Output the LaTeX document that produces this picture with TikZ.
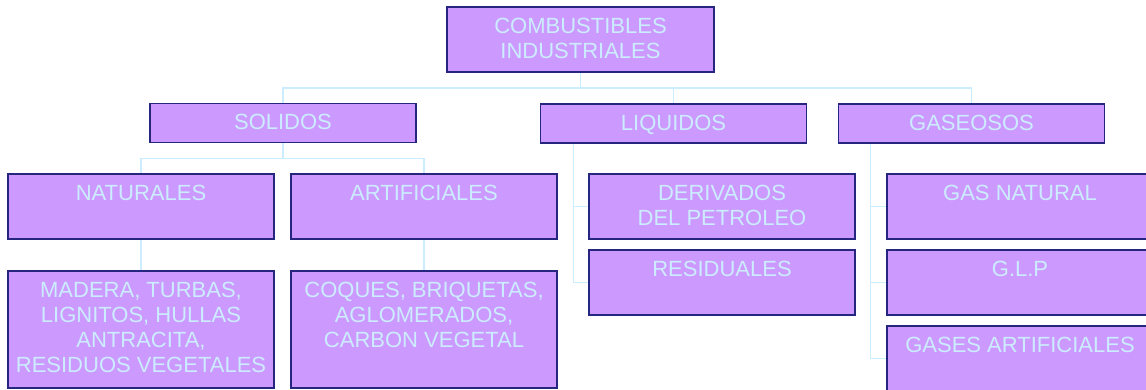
\documentclass[tikz,border=0pt]{standalone}
\usepackage{fontspec}
\setmainfont{Liberation Sans}
\usetikzlibrary{backgrounds}
\definecolor{boxfill}{HTML}{CC99FF}
\definecolor{boxline}{HTML}{262680}
\definecolor{txtcol}{HTML}{CCECFF}
\definecolor{conncol}{HTML}{CCECFF}
\newcommand\boxtxt[3]{\parbox[c][#2pt][t]{#1pt}{\centering\vspace*{11pt}#3\par}}
\tikzset{
  box/.style={draw=boxline, fill=boxfill, line width=1.5pt, inner sep=0pt, outer sep=0pt,
    anchor=north west, text=txtcol, font=\fontsize{22pt}{25pt}\selectfont},
  conn/.style={draw=conncol, line width=1.5pt}
}
\begin{document}
\begin{tikzpicture}[x=1pt,y=-1pt]
\useasboundingbox (0,0) rectangle (1146,389);
% boxes
\node[box] (top) at (447,7) {\boxtxt{267}{65}{COMBUSTIBLES\\INDUSTRIALES}};
\node[box] (sol) at (150,103.5) {\boxtxt{266}{39}{SOLIDOS}};
\node[box] (liq) at (540.5,104) {\boxtxt{266}{39}{LIQUIDOS}};
\node[box] (gas) at (838.5,104) {\boxtxt{266}{39}{GASEOSOS}};
\node[box] (nat) at (8,174) {\boxtxt{266}{65}{NATURALES}};
\node[box] (art) at (291,174) {\boxtxt{266}{65}{ARTIFICIALES}};
\node[box] (der) at (589,174) {\boxtxt{266}{65}{DERIVADOS\\DEL PETROLEO}};
\node[box] (res) at (589,250) {\boxtxt{266}{65}{RESIDUALES}};
\node[box] (gnat) at (887,174) {\boxtxt{266}{65}{GAS NATURAL}};
\node[box] (glp) at (887,250) {\boxtxt{266}{65}{G.L.P}};
\node[box] (gart) at (887,326) {\boxtxt{266}{65}{GASES ARTIFICIALES}};
\node[box] (mad) at (8,271) {\boxtxt{266}{117}{MADERA, TURBAS,\\LIGNITOS, HULLAS\\ANTRACITA,\\RESIDUOS VEGETALES}};
\node[box] (coq) at (291,271) {\boxtxt{266}{117}{COQUES, BRIQUETAS,\\AGLOMERADOS,\\CARBON VEGETAL}};
% connectors
\begin{scope}[on background layer]
\coordinate (bus1) at (0,88);
\coordinate (bus2) at (0,158.3);
\draw[conn] (top.south) -- (top.south |- bus1);
\draw[conn] (sol.north) -- (sol.north |- bus1) -| (gas.north);
\draw[conn] (liq.north) -- (liq.north |- bus1);
\draw[conn] (sol.south) -- (sol.south |- bus2);
\draw[conn] (nat.north) -- (nat.north |- bus2) -| (art.north);
\draw[conn] (nat.south) -- (mad.north);
\draw[conn] (art.south) -- (coq.north);
\coordinate (lv) at ([xshift=33pt]liq.south west);
\draw[conn] (lv) |- (res.west);
\draw[conn] (lv |- der.west) -- (der.west);
\coordinate (gv) at ([xshift=32pt]gas.south west);
\draw[conn] (gv) |- (gart.west);
\draw[conn] (gv |- gnat.west) -- (gnat.west);
\draw[conn] (gv |- glp.west) -- (glp.west);
\end{scope}
\end{tikzpicture}
\end{document}
